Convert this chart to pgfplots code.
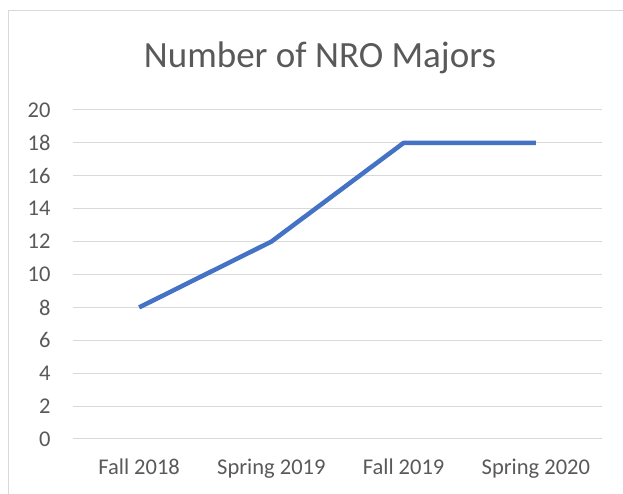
\documentclass[border=0pt]{standalone}
\usepackage{pgfplots}
\pgfplotsset{compat=1.18}
\usepackage{fontspec}
\setmainfont{Carlito}
\definecolor{txt}{HTML}{595959}
\definecolor{grd}{HTML}{D9D9D9}
\definecolor{ln}{HTML}{4472C4}
\definecolor{frm}{HTML}{D9D9D9}
\begin{document}
\begin{tikzpicture}
\path[use as bounding box] (-73pt,-55pt) rectangle (550pt,439pt);
\draw[frm,line width=1pt] (-64pt,-56pt) -- (-64pt,428pt) -- (551pt,428pt);
\begin{axis}[
  at={(0pt,0pt)}, anchor=south west,
  scale only axis, width=529pt, height=329pt,
  xmin=-0.5, xmax=3.5, ymin=0, ymax=20,
  xtick={0,1,2,3},
  xticklabels={Fall 2018, Spring 2019, Fall 2019, Spring 2020},
  ytick={0,2,...,20},
  ymajorgrids, major grid style={grd, line width=1pt},
  axis line style={draw=none},
  tick style={draw=none},
  ticklabel style={font=\fontsize{22.5}{26}\selectfont, text=txt},
  /pgf/number format/assume math mode=true,
  yticklabel style={xshift=-19pt},
  xticklabel style={yshift=-16pt},
  clip=false,
]
\addplot[ln, line width=4.5pt, line join=round] coordinates {(0,8) (1,12) (2,18) (3,18)};
\end{axis}
\node[text=txt, font=\fontsize{37}{42}\selectfont] at (247pt,381pt) {Number of NRO Majors};
\end{tikzpicture}
\end{document}
